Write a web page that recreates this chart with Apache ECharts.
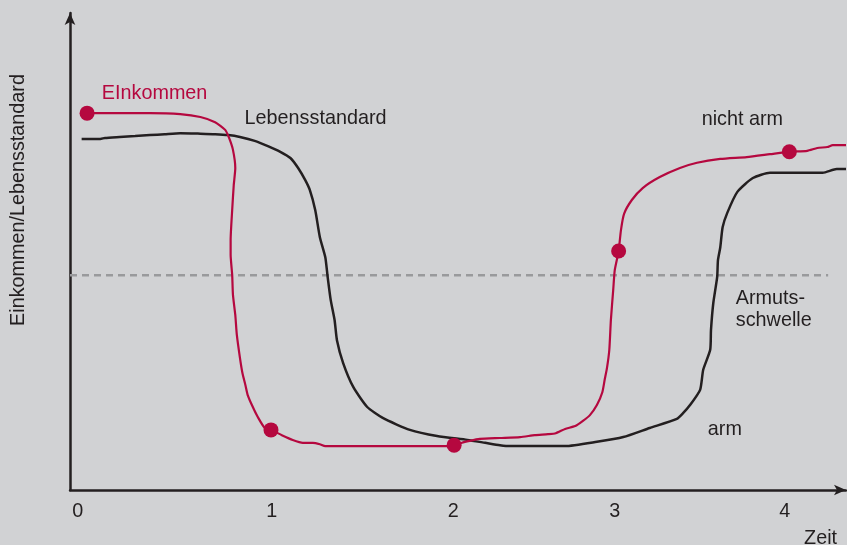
<!DOCTYPE html>
<html>
<head>
<meta charset="utf-8">
<script src="https://cdn.jsdelivr.net/npm/echarts@6/dist/echarts.min.js"></script>
<style>
  html, body { margin: 0; padding: 0; background: #d1d2d4; }
  #chart { width: 847px; height: 545px; }
</style>
</head>
<body>
<div id="chart"></div>
<script>
// ---- Data (time units 0..100 on x, level 0..100 on y) ----
const tickLabels = ['0', '1', '2', '3', '4'];
const tickPositions = [1.0, 26.0, 49.4, 70.2, 92.1];

const einkommen = [
  [2.2, 79.0], [10.3, 79.0], [14.2, 78.8], [16.8, 78.2], [18.7, 77.1], [20.0, 75.5],
  [20.5, 73.8], [21.0, 71.3], [21.3, 67.5], [21.1, 63.9], [20.9, 58.7], [20.7, 52.4],
  [20.7, 49.3], [20.9, 45.1], [21.0, 40.9], [21.3, 36.7], [21.5, 32.5], [21.9, 27.7],
  [22.2, 24.7], [22.6, 22.0], [22.9, 19.9], [23.5, 17.6], [24.2, 15.3], [25.1, 13.0],
  [25.9, 12.6], [27.3, 11.5], [28.7, 10.5], [30.0, 9.9], [31.3, 9.9], [32.2, 9.6],
  [32.9, 9.2], [34.8, 9.2], [49.5, 9.2], [50.5, 9.9], [51.5, 10.3], [52.8, 10.7],
  [55.4, 10.9], [58.0, 11.1], [59.9, 11.5], [61.6, 11.7], [62.6, 11.9], [63.8, 12.8],
  [65.1, 13.4], [66.1, 14.5], [67.0, 15.7], [67.9, 17.8], [68.6, 20.5], [68.9, 23.1],
  [69.2, 25.6], [69.5, 29.4], [69.7, 35.6], [70.0, 41.9], [70.2, 46.1], [70.7, 50.1],
  [71.0, 54.5], [71.4, 57.9], [72.4, 60.8], [73.8, 63.3], [76.0, 65.6], [78.6, 67.5],
  [80.8, 68.6], [83.8, 69.4], [87.2, 69.8], [90.2, 70.4], [92.7, 70.9], [95.0, 71.1],
  [96.3, 71.7], [97.6, 71.9], [98.3, 72.3], [100, 72.3]
];

const einkommenPunkte = [[2.2, 79.0], [25.9, 12.6], [49.5, 9.4], [70.7, 50.1], [92.7, 70.9]];

const lebensstandard = [
  [1.5, 73.6], [3.9, 73.6], [4.5, 73.8], [6.4, 74.0], [8.4, 74.2], [10.3, 74.4],
  [12.2, 74.6], [14.2, 74.8], [16.8, 74.7], [18.7, 74.6], [20.4, 74.4], [21.9, 74.0],
  [23.8, 73.2], [25.5, 72.1], [27.1, 70.9], [28.4, 69.6], [29.4, 67.5], [30.3, 65.0],
  [30.9, 62.9], [31.6, 58.7], [32.2, 53.0], [32.9, 48.8], [33.2, 44.7], [33.6, 39.8],
  [34.1, 35.6], [34.4, 31.4], [35.2, 26.6], [36.5, 21.6], [38.3, 17.4], [40.3, 15.1],
  [43.8, 12.6], [47.3, 11.3], [51.2, 10.5], [53.5, 9.9], [55.4, 9.4], [56.7, 9.2],
  [63.8, 9.2], [67.9, 10.1], [71.3, 11.1], [74.7, 13.0], [78.2, 14.9], [79.0, 16.1],
  [79.9, 17.8], [81.2, 21.0], [81.6, 25.2], [82.5, 29.4], [82.6, 33.5], [82.9, 39.2],
  [83.4, 44.7], [83.5, 48.2], [83.8, 50.9], [84.1, 55.1], [84.7, 58.1], [86.0, 62.5],
  [88.0, 65.4], [90.2, 66.5], [97.0, 66.5], [98.8, 67.3], [100, 67.3]
];

const armutsschwelle = [[0, 45], [97.7, 45]];

// annotations: [x, y, text]
const annotationsLeft = [
  [22.5, 77.8, 'Lebensstandard'],
  [81.4, 77.6, 'nicht arm'],
  [85.8, 37.9, 'Armuts-\nschwelle'],
  [82.2, 12.6, 'arm'],
  [94.6, -10.2, 'Zeit']
];
const einkommenLabel = [[4.1, 83.1, 'EInkommen']];
const yTitle = [[-6.6, 60.8, 'Einkommen/Lebensstandard']];

// ---- Chart ----
const RED = '#b5083f';
const DARK = '#231f20';
const FONT = "'Liberation Sans', Arial, Helvetica, sans-serif";
const FS = 19.8;

const chart = echarts.init(document.getElementById('chart'), null, { renderer: 'canvas' });

const axisLineStyle = {
  show: true,
  symbol: ['none', 'arrow'],
  symbolSize: [8, 12],
  symbolOffset: [0, 0],
  lineStyle: { color: DARK, width: 2.5 }
};

function textSeries(data, color, labelExtra) {
  return {
    type: 'scatter',
    data: data,
    symbolSize: 0,
    clip: false,
    silent: true,
    z: 10,
    itemStyle: { opacity: 1 },
    label: Object.assign({
      show: true,
      position: 'inside',
      align: 'left',
      verticalAlign: 'middle',
      color: color,
      fontSize: FS,
      fontFamily: FONT,
      lineHeight: 22,
      opacity: 1,
      formatter: p => p.value[2]
    }, labelExtra || {})
  };
}

chart.setOption({
  backgroundColor: '#d1d2d4',
  animation: false,
  grid: { left: 70, right: 1, top: 13, bottom: 55, containLabel: false },
  xAxis: {
    type: 'value',
    min: 0,
    max: 100,
    axisLine: axisLineStyle,
    axisTick: { show: false },
    splitLine: { show: false },
    axisLabel: {
      show: true,
      customValues: tickPositions,
      formatter: v => {
        const i = tickPositions.findIndex(t => Math.abs(t - v) < 1e-6);
        return i >= 0 ? tickLabels[i] : '';
      },
      color: DARK,
      fontSize: FS,
      fontFamily: FONT,
      margin: 12
    }
  },
  yAxis: {
    type: 'value',
    min: 0,
    max: 100,
    axisLine: axisLineStyle,
    axisTick: { show: false },
    splitLine: { show: false },
    axisLabel: { show: false }
  },
  series: [
    {
      name: 'Armutsschwelle',
      type: 'line',
      data: armutsschwelle,
      symbol: 'none',
      silent: true,
      lineStyle: { color: '#999a9c', width: 2.5, type: [7, 5] },
      z: 1
    },
    {
      name: 'Lebensstandard',
      type: 'line',
      data: lebensstandard,
      symbol: 'none',
      smooth: 0.2,
      lineStyle: { color: DARK, width: 2.5 },
      z: 2
    },
    {
      name: 'Einkommen',
      type: 'line',
      data: einkommen,
      symbol: 'none',
      smooth: 0.2,
      lineStyle: { color: RED, width: 2.2 },
      z: 3
    },
    {
      name: 'Einkommen Punkte',
      type: 'scatter',
      data: einkommenPunkte,
      symbol: 'circle',
      symbolSize: 15,
      itemStyle: { color: RED, opacity: 1 },
      z: 4
    },
    textSeries(annotationsLeft, DARK),
    textSeries(einkommenLabel, RED),
    textSeries(yTitle, DARK, { align: 'center', rotate: 90 })
  ]
});
</script>
</body>
</html>
